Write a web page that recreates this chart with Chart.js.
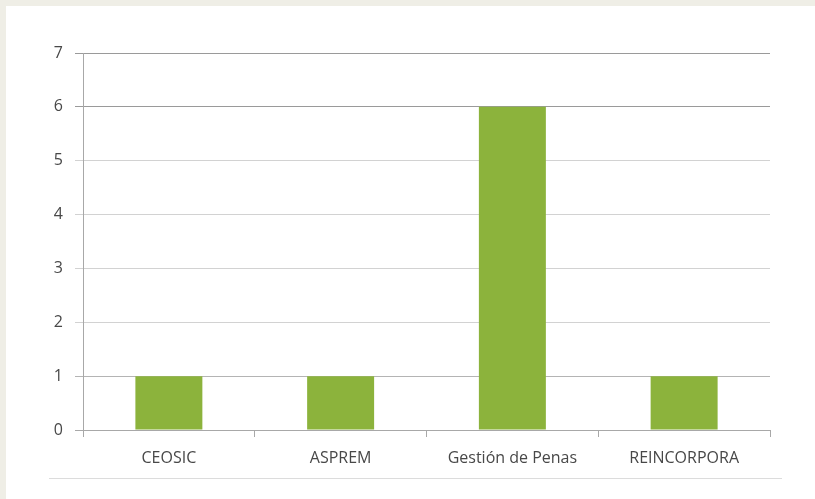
<!DOCTYPE html>
<html>
<head>
<meta charset="utf-8">
<script src="https://cdn.jsdelivr.net/npm/chart.js@4"></script>
<style>
  html, body { margin: 0; padding: 0; background: #efeee6; width: 815px; height: 499px; overflow: hidden; }
  #panel { position: absolute; left: 6px; top: 6px; width: 809px; height: 493px; background: #ffffff; }
  #wrap { position: absolute; left: 0; top: 0; width: 809px; height: 493px; }
  #rule { position: absolute; left: 43px; top: 472px; width: 733px; height: 0; border-top: 1px solid #dcdcdc; }
</style>
</head>
<body>
<div id="panel">
  <div id="wrap"><canvas id="c"></canvas></div>
  <div id="rule"></div>
</div>
<script>
const categories = ['CEOSIC', 'ASPREM', 'Gestión de Penas', 'REINCORPORA'];
const values = [1, 1, 6, 1];
const yTicks = [0, 1, 2, 3, 4, 5, 6, 7];

const FONT = { family: "'Open Sans', 'Liberation Sans', sans-serif", size: 16 };

new Chart(document.getElementById('c'), {
  type: 'bar',
  data: {
    labels: categories,
    datasets: [{
      data: values,
      backgroundColor: '#8cb33c',
      borderWidth: 0,
      categoryPercentage: 0.39,
      barPercentage: 1.0
    }]
  },
  options: {
    responsive: true,
    maintainAspectRatio: false,
    animation: false,
    layout: { padding: { left: 0, right: 45, top: 47, bottom: 0 } },
    plugins: { legend: { display: false }, tooltip: { enabled: false } },
    scales: {
      x: {
        offset: true,
        grid: { offset: true, drawOnChartArea: false, drawTicks: true, tickLength: 7, color: '#a8a8a8' },
        border: { display: true, color: '#a8a8a8', width: 1 },
        ticks: { color: '#484848', font: FONT, padding: 12 },
        afterFit: (s) => { s.height = 69; }
      },
      y: {
        min: 0, max: 7,
        afterBuildTicks: (s) => { s.ticks = yTicks.map(v => ({ value: v })); },
        grid: {
          color: (ctx) => {
            const v = ctx.tick ? ctx.tick.value : 0;
            if (v === 6 || v === 7) return '#9a9a9a';
            if (v === 1) return '#b4b4b4';
            if (v === 0) return '#a8a8a8';
            return '#d2d2d2';
          },
          tickLength: 8,
          lineWidth: 1
        },
        border: { display: true, color: '#a8a8a8', width: 1 },
        ticks: { color: '#484848', font: FONT, padding: 12 },
        afterFit: (s) => { s.width = 77; }
      }
    }
  }
});
</script>
</body>
</html>
